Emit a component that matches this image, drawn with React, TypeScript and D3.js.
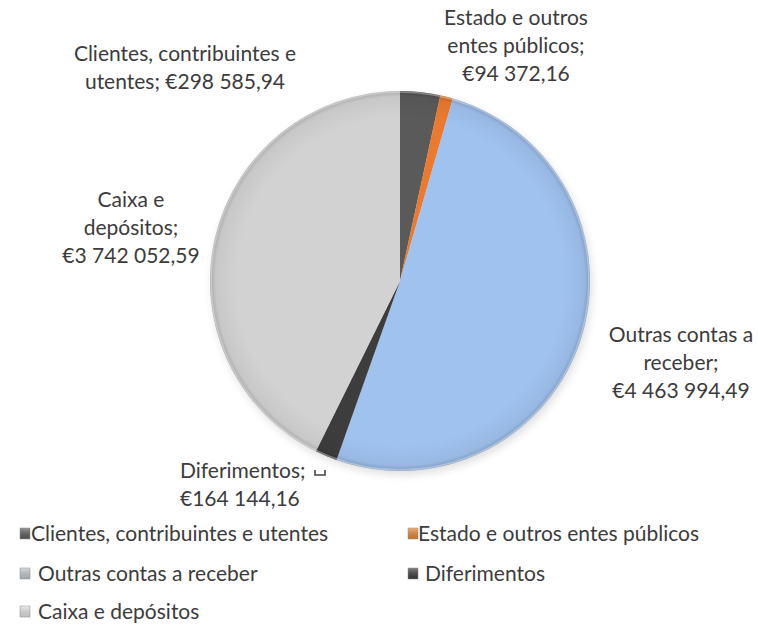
import React from "react";
import * as d3 from "d3";

const categories = [
  "Clientes, contribuintes e utentes",
  "Estado e outros entes públicos",
  "Outras contas a receber",
  "Diferimentos",
  "Caixa e depósitos",
];
const values = [298585.94, 94372.16, 4463994.49, 164144.16, 3742052.59];
const labelLines = [
  ["Clientes, contribuintes e", "utentes;  €298 585,94"],
  ["Estado e outros", "entes públicos;", "€94 372,16"],
  ["Outras contas a", "receber;", "€4 463 994,49"],
  ["Diferimentos;", "€164 144,16"],
  ["Caixa e", "depósitos;", "€3 742 052,59"],
];
const sliceColors = ["#5a5a5a", "#ec7a2e", "#a0c2ef", "#3d3d3d", "#d2d2d2"];
const legendColors = ["#5e5e5e", "#e8893a", "#c3cbd3", "#3f3f3f", "#e4e4e4"];

const W = 758;
const H = 631;
const cx = 400;
const cy = 281;
const R = 190;
const FONT = "Lato, 'Open Sans', sans-serif";
const TEXT = "#3c3c3c";
const FS = 21;

// label anchor (x, first baseline y, anchor) per slice
const labelPos: [number, number, string][] = [
  [185, 61, "middle"],
  [516, 25, "middle"],
  [681, 342, "middle"],
  [180, 478, "start"],
  [131, 207, "middle"],
];
const lineH = 28;

export default function App() {
  const pie = d3.pie<number>().sort(null).value((d) => d);
  const arcs = pie(values);
  const arc = d3.arc<d3.PieArcDatum<number>>().innerRadius(0).outerRadius(R);

  const legendMarkX = [20, 408];
  const legendY = [541, 581, 619];
  const textOffset = [11, 10, 18, 17, 18];

  return (
    <div style={{ position: "absolute", left: 0, top: 0 }}>
      <svg width={W} height={H} style={{ display: "block", background: "#fff" }}>
        <defs>
          <radialGradient id="shade" cx="0.5" cy="0.5" r="0.5">
            <stop offset="0.86" stopColor="#000" stopOpacity="0" />
            <stop offset="0.97" stopColor="#000" stopOpacity="0.05" />
            <stop offset="1" stopColor="#000" stopOpacity="0.2" />
          </radialGradient>
          <filter id="blur" x="-20%" y="-20%" width="140%" height="140%">
            <feGaussianBlur stdDeviation="4" />
          </filter>
          <linearGradient id="lg" x1="0" y1="0" x2="0" y2="1">
            <stop offset="0" stopColor="#fff" stopOpacity="0.35" />
            <stop offset="1" stopColor="#000" stopOpacity="0.15" />
          </linearGradient>
        </defs>
        <circle cx={cx + 2} cy={cy + 4} r={R} fill="#000" opacity={0.12} filter="url(#blur)" />
        <g transform={`translate(${cx},${cy})`}>
          {arcs.map((a, i) => (
            <path key={i} d={arc(a) || ""} fill={sliceColors[i]} />
          ))}
          <circle r={R} fill="url(#shade)" />
          <circle r={R - 1} fill="none" stroke="#fff" strokeOpacity={0.35} strokeWidth={1.5} />
        </g>
        <g fontFamily={FONT} fontSize={FS} fill={TEXT} style={{ whiteSpace: "pre" }}>
          {labelLines.map((lines, i) => (
            <text key={i} textAnchor={labelPos[i][2] as any}>
              {lines.map((l, j) => (
                <tspan key={j} x={labelPos[i][0]} y={labelPos[i][1] + j * lineH}>
                  {l}
                </tspan>
              ))}
            </text>
          ))}
          {/* small legend key inside Diferimentos label */}
          <path d="M315,470 v5 h10 v-5" fill="none" stroke="#444" strokeWidth={1.6} />
        </g>
        <g fontFamily={FONT} fontSize={FS} fill={TEXT}>
          {categories.map((c, i) => {
            const col = i === 4 ? 0 : i % 2;
            const row = Math.floor(i / 2);
            const x = legendMarkX[col];
            const y = legendY[row];
            return (
              <g key={i} transform={`translate(${x},${y})`}>
                <rect x={0} y={-13} width={10} height={11} fill={legendColors[i]} />
                <rect x={0} y={-13} width={10} height={11} fill="url(#lg)" stroke="#8a8a8a" strokeWidth={0.5} />
                <text x={textOffset[i]} y={0}>
                  {c}
                </text>
              </g>
            );
          })}
        </g>
      </svg>
    </div>
  );
}
